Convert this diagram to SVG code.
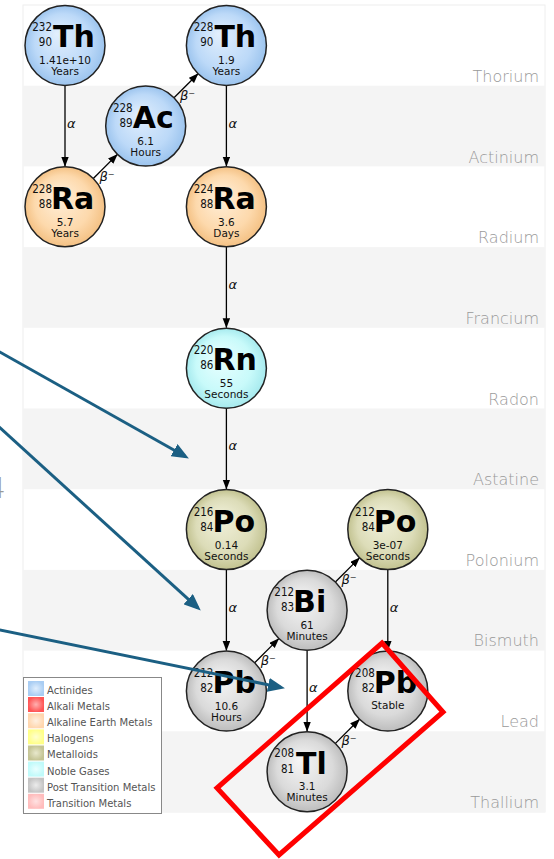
<svg xmlns="http://www.w3.org/2000/svg" width="554" height="859" viewBox="0 0 554 859">
<defs>
<style>
.node circle{stroke:#222;stroke-width:1.5}
.sym{font-family:"DejaVu Sans",sans-serif;font-weight:bold;font-size:30px;fill:#000}
.num{font-family:"DejaVu Sans",sans-serif;font-stretch:condensed;font-size:11.5px;text-anchor:end;fill:#111}
.hl{font-family:"DejaVu Sans",sans-serif;font-size:10.5px;text-anchor:middle;fill:#111}
.row{font-family:"DejaVu Sans",sans-serif;font-weight:200;font-size:16px;fill:#999;text-anchor:end}
.lbl{font-family:"DejaVu Sans",sans-serif;font-style:italic;font-size:13px;fill:#111}
.conn line{stroke:#000;stroke-width:1.3;marker-end:url(#ah)}
.band{fill:#f4f4f4}
.leg{font-family:"DejaVu Sans",sans-serif;font-size:10px;fill:#555}
.note{stroke:#1b5f83;stroke-width:3;fill:none;marker-end:url(#bh)}
</style>
<marker id="ah" markerUnits="userSpaceOnUse" markerWidth="10" markerHeight="8" refX="9.5" refY="3.75" orient="auto"><path d="M0,0 L10,3.75 L0,7.5 z" fill="#000"/></marker>
<marker id="bh" markerUnits="userSpaceOnUse" markerWidth="17" markerHeight="14" refX="13" refY="7" orient="auto"><path d="M0,0 L17,7 L0,14 z" fill="#1b5f83"/></marker>
<radialGradient id="gAct" cx="50%" cy="50%" r="50%" fx="40%" fy="35%"><stop offset="0" stop-color="#e2effd"/><stop offset="0.7" stop-color="#bcd9f8"/><stop offset="1" stop-color="#9cc4ee"/></radialGradient>
<radialGradient id="gAlk" cx="50%" cy="50%" r="50%" fx="40%" fy="35%"><stop offset="0" stop-color="#fff0dc"/><stop offset="0.7" stop-color="#fdd9ac"/><stop offset="1" stop-color="#f4c184"/></radialGradient>
<radialGradient id="gNob" cx="50%" cy="50%" r="50%" fx="40%" fy="35%"><stop offset="0" stop-color="#eaffff"/><stop offset="0.7" stop-color="#c8fafa"/><stop offset="1" stop-color="#a6eaee"/></radialGradient>
<radialGradient id="gMet" cx="50%" cy="50%" r="50%" fx="40%" fy="35%"><stop offset="0" stop-color="#f2f2dc"/><stop offset="0.7" stop-color="#dcdcb8"/><stop offset="1" stop-color="#c2c290"/></radialGradient>
<radialGradient id="gPost" cx="50%" cy="50%" r="50%" fx="40%" fy="35%"><stop offset="0" stop-color="#f6f6f6"/><stop offset="0.7" stop-color="#dadada"/><stop offset="1" stop-color="#bdbdbd"/></radialGradient>
<radialGradient id="sAct"><stop offset="0" stop-color="#e0eefd"/><stop offset="1" stop-color="#a9cdf3"/></radialGradient>
<radialGradient id="sAlkM"><stop offset="0" stop-color="#ffb0b0"/><stop offset="1" stop-color="#ff5555"/></radialGradient>
<radialGradient id="sAlk"><stop offset="0" stop-color="#fff0e0"/><stop offset="1" stop-color="#ffd6ae"/></radialGradient>
<radialGradient id="sHal"><stop offset="0" stop-color="#ffffd0"/><stop offset="1" stop-color="#ffff88"/></radialGradient>
<radialGradient id="sMet"><stop offset="0" stop-color="#e8e8cc"/><stop offset="1" stop-color="#c4c494"/></radialGradient>
<radialGradient id="sNob"><stop offset="0" stop-color="#eaffff"/><stop offset="1" stop-color="#c0fafa"/></radialGradient>
<radialGradient id="sPost"><stop offset="0" stop-color="#ececec"/><stop offset="1" stop-color="#c4c4c4"/></radialGradient>
<radialGradient id="sTr"><stop offset="0" stop-color="#ffe2e2"/><stop offset="1" stop-color="#ffbcbc"/></radialGradient>
</defs>

<g id="background">
<rect x="23" y="5" width="522" height="807" fill="#fff" stroke="#eeeeee" stroke-width="1"/>
<rect class="band" x="23" y="85.7" width="522" height="80.7"/>
<rect class="band" x="23" y="247.1" width="522" height="80.7"/>
<rect class="band" x="23" y="408.5" width="522" height="80.7"/>
<rect class="band" x="23" y="569.9" width="522" height="80.7"/>
<rect class="band" x="23" y="731.3" width="522" height="80.7"/>
<text class="row" x="539" y="82">Thorium</text>
<text class="row" x="539" y="162.5">Actinium</text>
<text class="row" x="539" y="243">Radium</text>
<text class="row" x="539" y="323.8">Francium</text>
<text class="row" x="539" y="404.5">Radon</text>
<text class="row" x="539" y="485">Astatine</text>
<text class="row" x="539" y="565.9">Polonium</text>
<text class="row" x="539" y="646.4">Bismuth</text>
<text class="row" x="539" y="727">Lead</text>
<text class="row" x="539" y="807.5">Thallium</text>
</g>

<g id="connectors" class="conn">
<line x1="65" y1="85.4" x2="65" y2="166.3"/>
<line x1="226.4" y1="85.4" x2="226.4" y2="166.3"/>
<line x1="226.4" y1="246.8" x2="226.4" y2="327.7"/>
<line x1="226.4" y1="408.2" x2="226.4" y2="489.1"/>
<line x1="226.4" y1="569.6" x2="226.4" y2="650.5"/>
<line x1="307.1" y1="650.3" x2="307.1" y2="731.2"/>
<line x1="387.8" y1="569.6" x2="387.8" y2="650.5"/>
<line x1="93.3" y1="178.5" x2="117.4" y2="154.4"/>
<line x1="174" y1="97.8" x2="198.1" y2="73.7"/>
<line x1="254.7" y1="662.7" x2="278.8" y2="638.6"/>
<line x1="335.4" y1="582" x2="359.5" y2="557.9"/>
<line x1="335.4" y1="743.4" x2="359.5" y2="719.3"/>
<text class="lbl" x="67" y="128">α</text>
<text class="lbl" x="228.4" y="128">α</text>
<text class="lbl" x="228.4" y="289">α</text>
<text class="lbl" x="228.4" y="450">α</text>
<text class="lbl" x="228.4" y="611.5">α</text>
<text class="lbl" x="309.1" y="692">α</text>
<text class="lbl" x="389.8" y="611.5">α</text>
<text class="lbl" x="99.4" y="180.5">β⁻</text>
<text class="lbl" x="180" y="99.8">β⁻</text>
<text class="lbl" x="260.8" y="664.7">β⁻</text>
<text class="lbl" x="341.4" y="584">β⁻</text>
<text class="lbl" x="341.4" y="745.4">β⁻</text>
</g>

<g id="th232" class="node" transform="translate(65,45.4)">
<circle r="40" fill="url(#gAct)"/>
<text class="num" x="-13" y="-14">232</text><text class="num" x="-13" y="1">90</text>
<text class="sym" x="-12" y="2">Th</text>
<text class="hl" y="19">1.41e+10</text><text class="hl" y="30">Years</text>
</g>
<g id="ac228" class="node" transform="translate(145.7,126.1)">
<circle r="40" fill="url(#gAct)"/>
<text class="num" x="-13" y="-14">228</text><text class="num" x="-13" y="1">89</text>
<text class="sym" x="-13" y="2">Ac</text>
<text class="hl" y="19">6.1</text><text class="hl" y="30">Hours</text>
</g>
<g id="th228" class="node" transform="translate(226.4,45.4)">
<circle r="40" fill="url(#gAct)"/>
<text class="num" x="-13" y="-14">228</text><text class="num" x="-13" y="1">90</text>
<text class="sym" x="-12" y="2">Th</text>
<text class="hl" y="19">1.9</text><text class="hl" y="30">Years</text>
</g>
<g id="ra228" class="node" transform="translate(65,206.8)">
<circle r="40" fill="url(#gAlk)"/>
<text class="num" x="-13" y="-14">228</text><text class="num" x="-13" y="1">88</text>
<text class="sym" x="-14" y="2">Ra</text>
<text class="hl" y="19">5.7</text><text class="hl" y="30">Years</text>
</g>
<g id="ra224" class="node" transform="translate(226.4,206.8)">
<circle r="40" fill="url(#gAlk)"/>
<text class="num" x="-13" y="-14">224</text><text class="num" x="-13" y="1">88</text>
<text class="sym" x="-14" y="2">Ra</text>
<text class="hl" y="19">3.6</text><text class="hl" y="30">Days</text>
</g>
<g id="rn220" class="node" transform="translate(226.4,368.2)">
<circle r="40" fill="url(#gNob)"/>
<text class="num" x="-13" y="-14">220</text><text class="num" x="-13" y="1">86</text>
<text class="sym" x="-14" y="2">Rn</text>
<text class="hl" y="19">55</text><text class="hl" y="30">Seconds</text>
</g>
<g id="po216" class="node" transform="translate(226.4,529.6)">
<circle r="40" fill="url(#gMet)"/>
<text class="num" x="-13" y="-14">216</text><text class="num" x="-13" y="1">84</text>
<text class="sym" x="-14" y="2">Po</text>
<text class="hl" y="19">0.14</text><text class="hl" y="30">Seconds</text>
</g>
<g id="pb212" class="node" transform="translate(226.4,691)">
<circle r="40" fill="url(#gPost)"/>
<text class="num" x="-13" y="-14">212</text><text class="num" x="-13" y="1">82</text>
<text class="sym" x="-14" y="2">Pb</text>
<text class="hl" y="19">10.6</text><text class="hl" y="30">Hours</text>
</g>
<g id="bi212" class="node" transform="translate(307.1,610.3)">
<circle r="40" fill="url(#gPost)"/>
<text class="num" x="-13" y="-14">212</text><text class="num" x="-13" y="1">83</text>
<text class="sym" x="-14" y="2">Bi</text>
<text class="hl" y="19">61</text><text class="hl" y="30">Minutes</text>
</g>
<g id="po212" class="node" transform="translate(387.8,529.6)">
<circle r="40" fill="url(#gMet)"/>
<text class="num" x="-13" y="-14">212</text><text class="num" x="-13" y="1">84</text>
<text class="sym" x="-14" y="2">Po</text>
<text class="hl" y="19">3e-07</text><text class="hl" y="30">Seconds</text>
</g>
<g id="pb208" class="node" transform="translate(387.8,691)">
<circle r="40" fill="url(#gPost)"/>
<text class="num" x="-13" y="-14">208</text><text class="num" x="-13" y="1">82</text>
<text class="sym" x="-14" y="2">Pb</text>
<text class="hl" y="18">Stable</text>
</g>
<g id="tl208" class="node" transform="translate(307.1,771.7)">
<circle r="40" fill="url(#gPost)"/>
<text class="num" x="-13" y="-15">208</text><text class="num" x="-13" y="1">81</text>
<text class="sym" x="-11" y="2">Tl</text>
<text class="hl" y="18">3.1</text><text class="hl" y="29.5">Minutes</text>
</g>

<g id="legend">
<rect x="23.5" y="677.5" width="138" height="136" fill="#fff" stroke="#888" stroke-width="1"/>
<rect x="28" y="681" width="16" height="15" fill="url(#sAct)"/>
<rect x="28" y="697" width="16" height="15" fill="url(#sAlkM)"/>
<rect x="28" y="713.3" width="16" height="15" fill="url(#sAlk)"/>
<rect x="28" y="729.4" width="16" height="15" fill="url(#sHal)"/>
<rect x="28" y="745.5" width="16" height="15" fill="url(#sMet)"/>
<rect x="28" y="761.6" width="16" height="15" fill="url(#sNob)"/>
<rect x="28" y="777.7" width="16" height="15" fill="url(#sPost)"/>
<rect x="28" y="793.8" width="16" height="15" fill="url(#sTr)"/>
<text class="leg" x="47" y="694">Actinides</text>
<text class="leg" x="47" y="710.1">Alkali Metals</text>
<text class="leg" x="47" y="726.2">Alkaline Earth Metals</text>
<text class="leg" x="47" y="742.3">Halogens</text>
<text class="leg" x="47" y="758.4">Metalloids</text>
<text class="leg" x="47" y="774.5">Noble Gases</text>
<text class="leg" x="47" y="790.6">Post Transition Metals</text>
<text class="leg" x="47" y="806.7">Transition Metals</text>
</g>

<g id="annotations">
<text x="-12" y="498" font-family="DejaVu Sans, sans-serif" font-weight="200" font-size="28" fill="#999">4</text>
<line class="note" x1="-2" y1="351" x2="185.4" y2="456.5"/>
<line class="note" x1="-2" y1="426" x2="197.8" y2="607.9"/>
<line class="note" x1="-2" y1="629.6" x2="281" y2="687.4"/>
<polygon points="382,643 443,712 279,855 217,788" fill="none" stroke="#ff0000" stroke-width="5"/>
</g>
</svg>
